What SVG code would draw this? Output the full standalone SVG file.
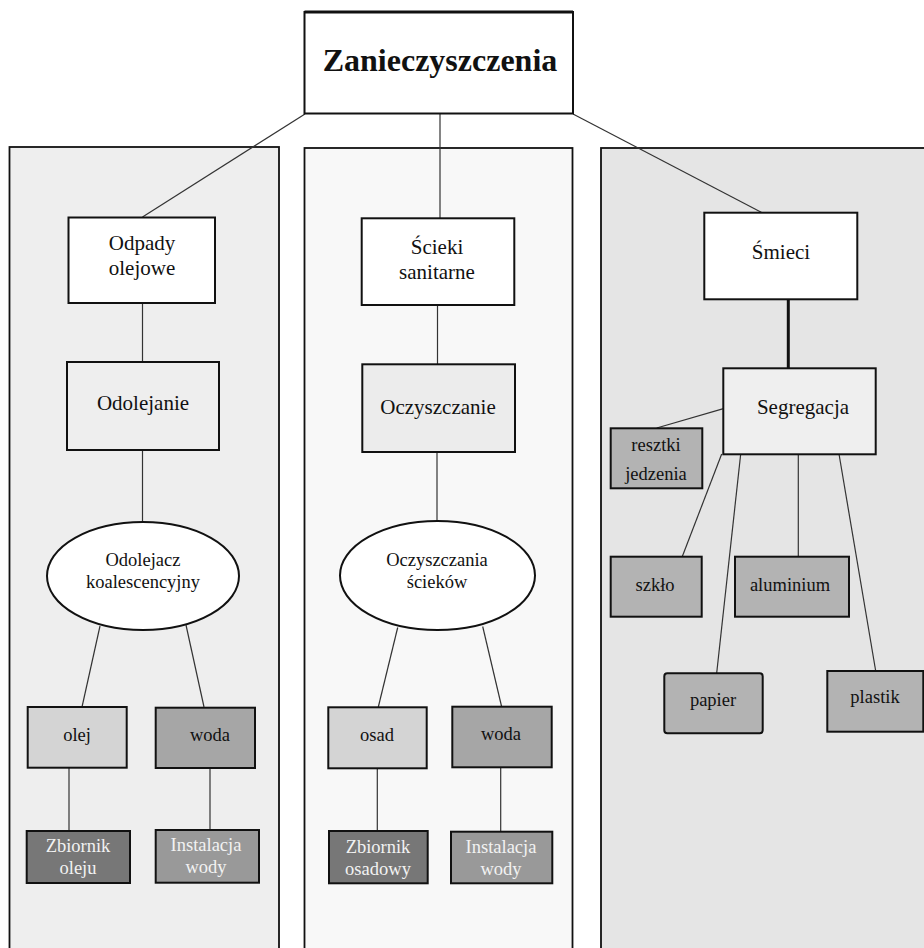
<svg xmlns="http://www.w3.org/2000/svg" width="924" height="948" viewBox="0 0 924 948">
<style>
text{font-family:"Liberation Serif","Tinos","Times New Roman","DejaVu Serif",serif;fill:#111;text-anchor:middle}
.t21{font-size:21px}
.t18{font-size:18.5px}
.lt{fill:#f2f2f2}
.panel{stroke:#111;stroke-width:1.8}
.box{stroke:#111;stroke-width:2}
.con{stroke:#333;stroke-width:1.2;fill:none}
</style>
<rect width="924" height="948" fill="#fff"/>
<g id="panels">
<rect class="panel" x="9.5" y="147" width="269.5" height="820" fill="#eeeeee"/>
<rect class="panel" x="304.5" y="148" width="268" height="820" fill="#f8f8f8"/>
<rect class="panel" x="601" y="148" width="340" height="820" fill="#e5e5e5"/>
</g>
<g id="connectors">
<line class="con" x1="305" y1="114" x2="142.5" y2="217"/>
<line class="con" x1="440" y1="114" x2="440" y2="218" stroke="#666"/>
<line class="con" x1="573" y1="114" x2="761.7" y2="212.5"/>
<line class="con" x1="142.5" y1="303" x2="142.5" y2="362"/>
<line class="con" x1="142.5" y1="450" x2="142.5" y2="522"/>
<line class="con" x1="100" y1="626" x2="82" y2="707"/>
<line class="con" x1="186" y1="625" x2="204" y2="707"/>
<line class="con" x1="69" y1="768" x2="69" y2="831"/>
<line class="con" x1="210" y1="768" x2="210" y2="830"/>
<line class="con" x1="437.5" y1="305" x2="437.5" y2="364"/>
<line class="con" x1="437" y1="452" x2="437" y2="521"/>
<line class="con" x1="397.7" y1="627.5" x2="378.3" y2="707"/>
<line class="con" x1="482.7" y1="626.5" x2="501.7" y2="707"/>
<line class="con" x1="377.3" y1="768" x2="377.3" y2="831"/>
<line class="con" x1="500.7" y1="767" x2="500.7" y2="831.5"/>
<line x1="788.3" y1="299" x2="788.3" y2="368.5" stroke="#111" stroke-width="3"/>
<line class="con" x1="724.3" y1="408.3" x2="656.7" y2="428"/>
<line class="con" x1="721.7" y1="454" x2="682.3" y2="556.5"/>
<line class="con" x1="740.7" y1="454" x2="716.7" y2="673"/>
<line class="con" x1="798.3" y1="454" x2="798.3" y2="557"/>
<line class="con" x1="839" y1="454" x2="875.7" y2="671"/>
</g>
<g id="zanieczyszczenia">
<rect class="box" x="304.5" y="12" width="268.5" height="101.5" fill="#fff"/>
<line x1="304.5" y1="12" x2="573" y2="12" stroke="#111" stroke-width="3"/>
<text x="440" y="71" style="font-size:32px;font-weight:bold">Zanieczyszczenia</text>
</g>
<g id="odpady">
<rect class="box" x="68.5" y="217.5" width="146.5" height="85.5" fill="#fff"/>
<text class="t21" x="142" y="250">Odpady</text>
<text class="t21" x="142" y="275">olejowe</text>
</g>
<g id="odolejanie">
<rect class="box" x="67" y="362" width="152" height="88" fill="#eeeeee"/>
<text class="t21" x="143" y="410">Odolejanie</text>
</g>
<g id="odolejacz">
<ellipse class="box" cx="143" cy="576" rx="96" ry="54" fill="#fff"/>
<text class="t18" x="143" y="566">Odolejacz</text>
<text class="t18" x="143" y="588">koalescencyjny</text>
</g>
<g id="olej">
<rect class="box" x="27.7" y="707" width="99" height="60.7" fill="#d4d4d4"/>
<text class="t18" x="77" y="741">olej</text>
</g>
<g id="woda1">
<rect class="box" x="155.7" y="707.7" width="99.3" height="60.3" fill="#a6a6a6"/>
<text class="t18" x="210" y="741">woda</text>
</g>
<g id="zbiornik-oleju">
<rect class="box" x="26.7" y="831" width="103.3" height="52" fill="#777777"/>
<text class="t18 lt" x="78" y="852">Zbiornik</text>
<text class="t18 lt" x="78" y="874">oleju</text>
</g>
<g id="instalacja1">
<rect class="box" x="155.7" y="830" width="103.3" height="52.7" fill="#999999"/>
<text class="t18 lt" x="206" y="851">Instalacja</text>
<text class="t18 lt" x="206" y="873">wody</text>
</g>
<g id="scieki">
<rect class="box" x="361.7" y="218.3" width="152.6" height="86.7" fill="#fff"/>
<text class="t21" x="437" y="254">Ścieki</text>
<text class="t21" x="437" y="279">sanitarne</text>
</g>
<g id="oczyszczanie">
<rect class="box" x="362.3" y="364.3" width="152.7" height="87.7" fill="#ececec"/>
<text class="t21" x="438" y="414">Oczyszczanie</text>
</g>
<g id="oczyszczania-sciekow">
<ellipse class="box" cx="437.5" cy="575.5" rx="97.5" ry="54.5" fill="#fff"/>
<text class="t18" x="437" y="566">Oczyszczania</text>
<text class="t18" x="437" y="588">ścieków</text>
</g>
<g id="osad">
<rect class="box" x="328.3" y="707.3" width="98.4" height="61" fill="#d4d4d4"/>
<text class="t18" x="377" y="741">osad</text>
</g>
<g id="woda2">
<rect class="box" x="452.3" y="706.7" width="99.4" height="60.6" fill="#a6a6a6"/>
<text class="t18" x="501" y="740">woda</text>
</g>
<g id="zbiornik-osadowy">
<rect class="box" x="329" y="831" width="98.7" height="52.3" fill="#777777"/>
<text class="t18 lt" x="378" y="853">Zbiornik</text>
<text class="t18 lt" x="378" y="874.5">osadowy</text>
</g>
<g id="instalacja2">
<rect class="box" x="451" y="831.7" width="101.3" height="51.6" fill="#999999"/>
<text class="t18 lt" x="501" y="853">Instalacja</text>
<text class="t18 lt" x="501" y="875">wody</text>
</g>
<g id="smieci">
<rect class="box" x="704.3" y="212.7" width="153" height="86.6" fill="#fff"/>
<text class="t21" x="781" y="259">Śmieci</text>
</g>
<g id="segregacja">
<rect class="box" x="723.3" y="368.3" width="152.4" height="86" fill="#efefef"/>
<text class="t21" x="803" y="414">Segregacja</text>
</g>
<g id="resztki">
<rect class="box" x="610.7" y="428.3" width="91.6" height="60" fill="#b3b3b3"/>
<text class="t18" x="656" y="451">resztki</text>
<text class="t18" x="656" y="480">jedzenia</text>
</g>
<g id="szklo">
<rect class="box" x="610.7" y="556.7" width="91" height="60" fill="#b3b3b3"/>
<text class="t18" x="655" y="591">szkło</text>
</g>
<g id="aluminium">
<rect class="box" x="735" y="556.7" width="114" height="60" fill="#b3b3b3"/>
<text class="t18" x="790" y="591">aluminium</text>
</g>
<g id="papier">
<rect class="box" x="664.3" y="673.3" width="98.4" height="60" rx="3" fill="#b3b3b3"/>
<text class="t18" x="713" y="705.5">papier</text>
</g>
<g id="plastik">
<rect class="box" x="827.3" y="671" width="96" height="60.7" fill="#b3b3b3"/>
<text class="t18" x="875" y="702.5">plastik</text>
</g>
</svg>
